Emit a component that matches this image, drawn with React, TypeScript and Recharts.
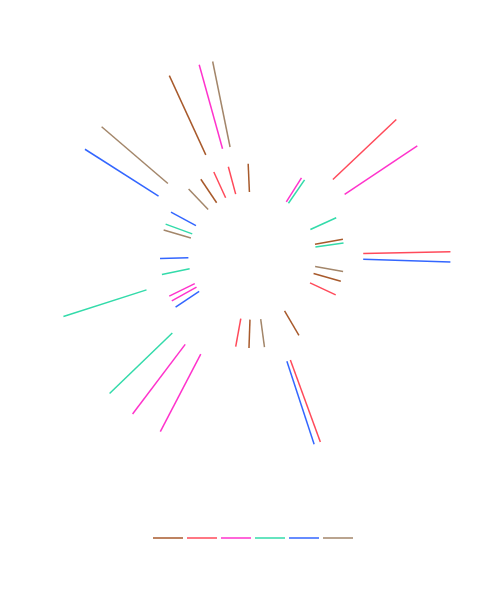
import { RadialBarChart, RadialBar, PolarAngleAxis, PolarRadiusAxis, Legend } from "recharts";

// ─── Data ────────────────────────────────────────────────────────────────────
// Angles are degrees, counter-clockwise from 3 o'clock. Each series has marks
// in the inner band and in the outer band.

const seriesColors = ["#a85a2c", "#ff4a5a", "#ff33cc", "#33dbaa", "#3366ff", "#a3866a"];

const innerBand: [number, number] = [32.2, 46.5];
const outerBand: [number, number] = [56, 100];

const innerAngles: number[][] = [
	[92.5, 123.85, 268.0, 300.45, 343.95, 10.35],
	[105.0, 114.6, 259.7, 334.9],
	[205.9, 209.3, 57.7],
	[159.9, 191.7, 8.0, 24.35, 55.4],
	[151.75, 181.75, 213.8],
	[133.6, 163.8, 277.65, 350.25],
];

const outerAngles: number[][] = [
	[114.7],
	[43.4, 1.2, 290.1],
	[105.5, 33.65, 232.9, 242.4],
	[197.85, 224.0],
	[147.5, 358.2, 288.2],
	[101.5, 139.4],
];

const angleTicks = [0, 90, 180, 270, 360];

interface MarkRow {
	angle: number;
	span: [number, number];
	series: number;
}

const rows: MarkRow[] = [];
seriesColors.forEach((_, s) => {
	innerAngles[s].forEach((angle) => rows.push({ angle, span: innerBand, series: s }));
	outerAngles[s].forEach((angle) => rows.push({ angle, span: outerBand, series: s }));
});

// ─── Shapes ──────────────────────────────────────────────────────────────────

const RAD = Math.PI / 180;

function toXY(cx: number, cy: number, r: number, angle: number) {
	return { x: cx + r * Math.cos(-angle * RAD), y: cy + r * Math.sin(-angle * RAD) };
}

// draws each radial bar as a thin spoke at the middle of its sector
function Spoke(props: any) {
	const { cx, cy, innerRadius, outerRadius, startAngle, endAngle } = props;
	if (![cx, cy, innerRadius, outerRadius, startAngle, endAngle].every(Number.isFinite)) return null;
	const series = props.payload?.series ?? props.series ?? 0;
	const mid = (startAngle + endAngle) / 2;
	const a = toXY(cx, cy, innerRadius, mid);
	const b = toXY(cx, cy, outerRadius, mid);
	return <line x1={a.x} y1={a.y} x2={b.x} y2={b.y} stroke={seriesColors[series]} strokeWidth={1.5} />;
}

function LegendLines() {
	return (
		<div style={{ display: "flex", justifyContent: "center" }}>
			<svg width={200} height={20} style={{ display: "block" }}>
				{seriesColors.map((color, i) => (
					<line key={color} x1={i * 34} x2={i * 34 + 30} y1={10} y2={10} stroke={color} strokeWidth={1.5} />
				))}
			</svg>
		</div>
	);
}

export default function App() {
	return (
		<RadialBarChart
			width={489}
			height={540}
			data={rows}
			layout="centric"
			cx={244.2}
			cy={247.8}
			innerRadius={0}
			outerRadius={198.3}
			startAngle={0}
			endAngle={360}
			margin={{ top: 0, right: 0, bottom: 0, left: 0 }}
		>
			<PolarAngleAxis type="number" dataKey="angle" domain={[0, 360]} ticks={angleTicks} tick={false} axisLine={false} />
			<PolarRadiusAxis type="number" domain={[0, 100]} tick={false} axisLine={false} />
			<RadialBar dataKey="span" barSize={2} shape={Spoke} isAnimationActive={false} />
			<Legend verticalAlign="bottom" align="center" content={() => <LegendLines />} />
		</RadialBarChart>
	);
}
